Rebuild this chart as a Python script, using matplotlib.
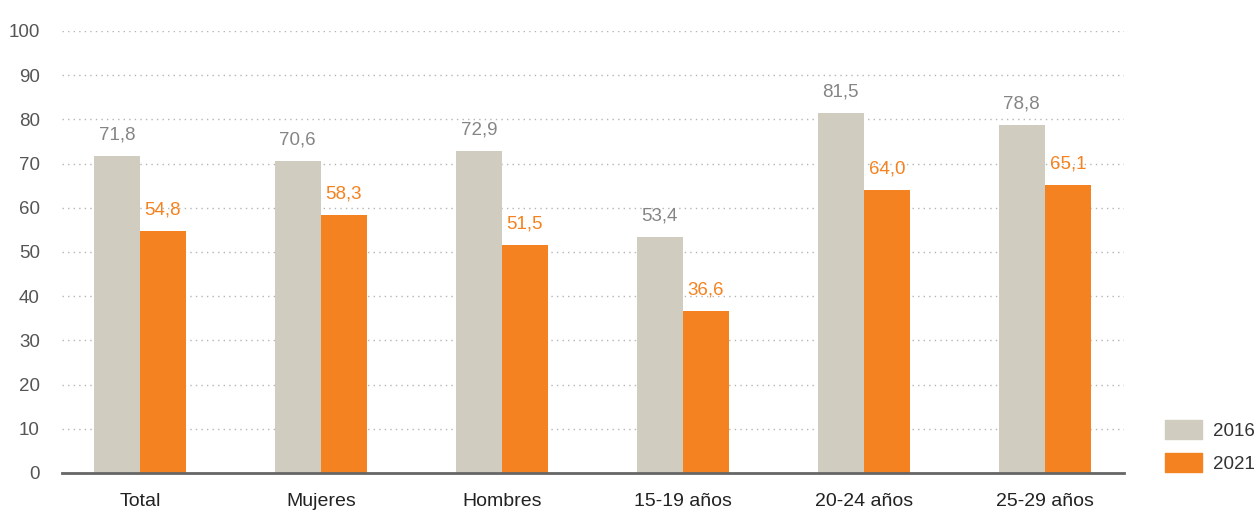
import matplotlib.pyplot as plt
from matplotlib.patches import Patch
import numpy as np

plt.rcParams['font.family'] = ['Liberation Sans', 'DejaVu Sans']

categorias = ["Total", "Mujeres", "Hombres", "15-19 años", "20-24 años", "25-29 años"]
valores_2016 = [71.8, 70.6, 72.9, 53.4, 81.5, 78.8]
valores_2021 = [54.8, 58.3, 51.5, 36.6, 64.0, 65.1]
series = ["2016", "2021"]

gris = '#d0cdc0'
naranja = '#f58220'

fig = plt.figure(figsize=(12.55, 5.13), dpi=100)
ax = fig.add_axes([0.0494, 0.078, 0.8466, 0.8616])

x = np.arange(len(categorias))
w = 0.255
ax.bar(x - w / 2, valores_2016, w, color=gris, zorder=3)
ax.bar(x + w / 2, valores_2021, w, color=naranja, zorder=3)

for xi, v in zip(x, valores_2016):
    ax.text(xi - w / 2, v + 2.8, f"{v:.1f}".replace('.', ','), ha='center', va='bottom',
            fontsize=13.5, color='#858585')
for xi, v in zip(x, valores_2021):
    ax.text(xi + w / 2, v + 2.8, f"{v:.1f}".replace('.', ','), ha='center', va='bottom',
            fontsize=13.5, color=naranja)

ax.set_ylim(0, 100)
ax.set_xlim(-0.43, 5.44)
ax.set_yticks(range(0, 101, 10))
ax.yaxis.grid(True, linestyle=(0, (1, 3)), color='#b5b5b5', linewidth=1, zorder=0)
ax.set_xticks(x)
ax.set_xticklabels(categorias, fontsize=14, color='#222222')
ax.tick_params(axis='y', length=0, labelsize=13.5, labelcolor='#555555', pad=16)
ax.tick_params(axis='x', length=0, pad=14.5)

for s in ['top', 'right', 'left']:
    ax.spines[s].set_visible(False)
ax.spines['bottom'].set_color('#666666')
ax.spines['bottom'].set_linewidth(2)
ax.spines['bottom'].set_zorder(4)

handles = [Patch(color=gris), Patch(color=naranja)]
fig.legend(handles, series, loc='lower left', bbox_to_anchor=(0.928, 0.078),
           frameon=False, fontsize=13.5, handlelength=2.0, handleheight=1.2,
           labelspacing=0.7, handletextpad=0.6, borderpad=0, borderaxespad=0,
           labelcolor='#333333')

fig.savefig('out.png', dpi=100)
